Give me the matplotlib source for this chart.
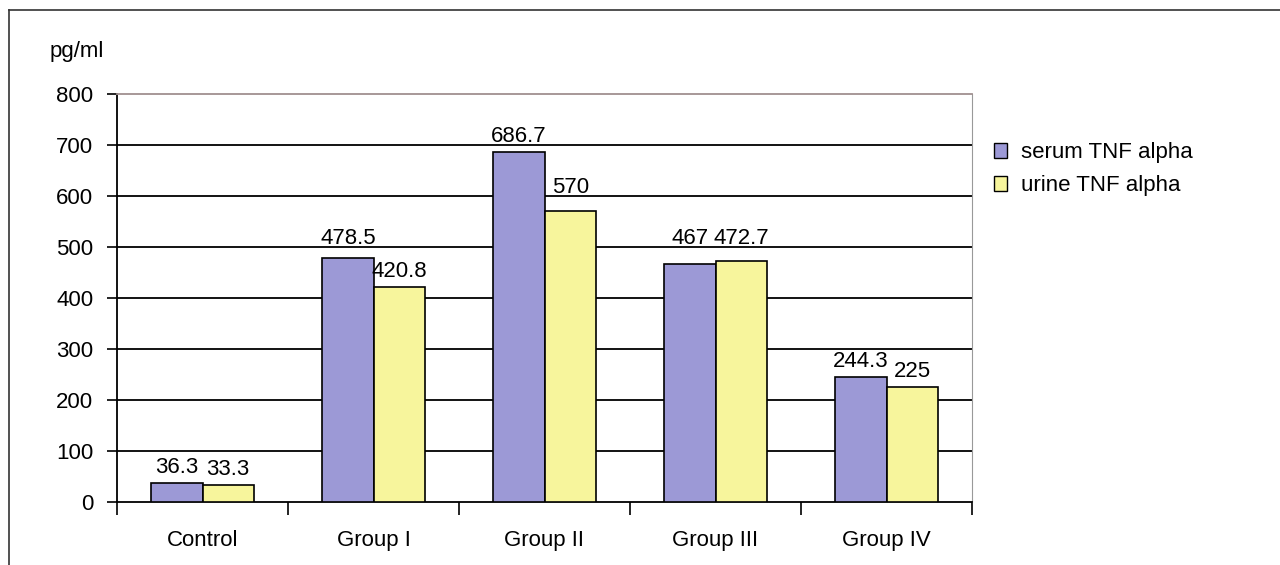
import matplotlib.pyplot as plt
import matplotlib.patches as mpatches
import numpy as np

plt.rcParams['font.family'] = ['Liberation Sans', 'DejaVu Sans']

# data
groups = ["Control", "Group I", "Group II", "Group III", "Group IV"]
serum = [36.3, 478.5, 686.7, 467, 244.3]
urine = [33.3, 420.8, 570, 472.7, 225]
serum_labels = ["36.3", "478.5", "686.7", "467", "244.3"]
urine_labels = ["33.3", "420.8", "570", "472.7", "225"]

purple = "#9c99d6"
yellow = "#f7f59c"
fs = 16

fig = plt.figure(figsize=(12.8, 5.65), dpi=100)
ax = fig.add_axes([117 / 1280, 1 - 502 / 565, (972 - 117) / 1280, (502 - 94) / 565])

x = np.arange(len(groups))
w = 0.3
ax.bar(x - w / 2, serum, w, color=purple, edgecolor="black", linewidth=1.2, zorder=3)
ax.bar(x + w / 2, urine, w, color=yellow, edgecolor="black", linewidth=1.2, zorder=3)


def label_base(v):
    # put the label just above the bar, but lift it over a gridline it would cross
    base = v + 20
    top = base + 31
    for g in range(100, 800, 100):
        if base - 2 < g < top + 2:
            base = g + 5
    return base


for i in range(len(groups)):
    ax.text(x[i] - w / 2, label_base(serum[i]), serum_labels[i], ha="center", va="baseline",
            fontsize=fs, zorder=4)
    ax.text(x[i] + w / 2, label_base(urine[i]), urine_labels[i], ha="center", va="baseline",
            fontsize=fs, zorder=4)

ax.set_xlim(-0.5, len(groups) - 0.5)
ax.set_ylim(0, 800)
ax.set_yticks(range(0, 801, 100))
ax.tick_params(axis="y", labelsize=fs, length=7, width=1.2, pad=10)
for y in range(100, 800, 100):
    ax.axhline(y, color="black", linewidth=1.3, zorder=1)

# category ticks at the boundaries
ax.set_xticks(np.arange(-0.5, len(groups), 1.0))
ax.set_xticklabels([])
ax.set_xticks(x, minor=True)
ax.set_xticklabels(groups, minor=True, fontsize=fs)
ax.tick_params(axis="x", which="major", length=9, width=1.2)
ax.tick_params(axis="x", which="minor", length=0, pad=20)

ax.spines["left"].set_linewidth(1.3)
ax.spines["bottom"].set_linewidth(1.3)
ax.spines["right"].set_color("#999999")
ax.spines["top"].set_color("#a09090")
ax.spines["top"].set_linewidth(1.3)

fig.text(50 / 1280, 1 - 52 / 565, "pg/ml", fontsize=fs, va="center")

# legend
s_patch = mpatches.Patch(facecolor=purple, edgecolor="black", label="serum TNF alpha")
u_patch = mpatches.Patch(facecolor=yellow, edgecolor="black", label="urine TNF alpha")
fig.legend(handles=[s_patch, u_patch], loc="upper left", bbox_to_anchor=(974 / 1280, 1 - 122 / 565),
           frameon=False, fontsize=fs, handlelength=0.6, handleheight=0.65, handletextpad=0.6,
           labelspacing=0.55)

# figure border
fig.add_artist(plt.Line2D([9 / 1280, 9 / 1280], [0, 1 - 10 / 565], color="#333333", linewidth=1.2))
fig.add_artist(plt.Line2D([9 / 1280, 1], [1 - 10 / 565, 1 - 10 / 565], color="#333333", linewidth=1.2))

fig.savefig("out.png", dpi=100)
